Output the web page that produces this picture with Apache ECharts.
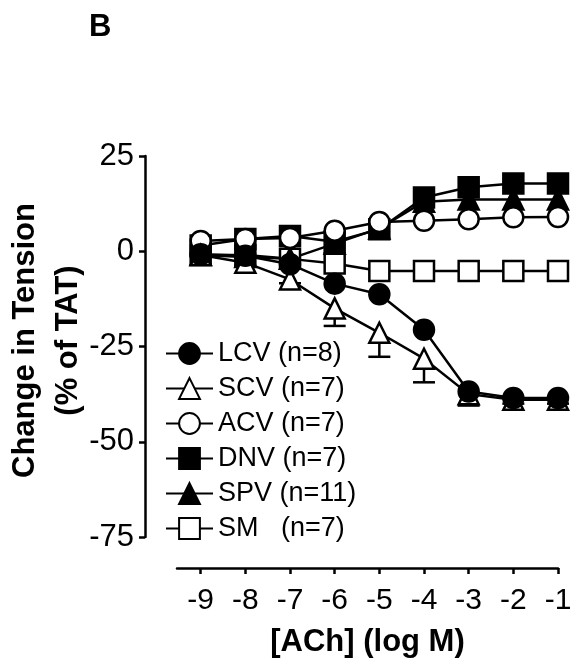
<!DOCTYPE html>
<html>
<head>
<meta charset="utf-8">
<script src="https://cdn.jsdelivr.net/npm/echarts@6/dist/echarts.min.js"></script>
<style>
html,body{margin:0;padding:0;background:#fff;}
#chart{width:573px;height:660px;}
</style>
</head>
<body>
<div id="chart"></div>
<script>
// log[ACh] (M)
const concentrations = [-9, -8, -7, -6, -5, -4, -3, -2, -1];
const xTicks = [-9, -8, -7, -6, -5, -4, -3, -2, -1];
const yTicks = [25, 0, -25, -50, -75];

const seriesNames = ['LCV (n=8)', 'SCV (n=7)', 'ACV (n=7)', 'DNV (n=7)', 'SPV (n=11)', 'SM   (n=7)'];

// Change in tension (% of TAT)
const lcv = [-0.8, -1.2, -3.4, -8.5, -11.3, -20.6, -36.8, -38.5, -38.5];
const scv = [-1.0, -3.0, -7.4, -15.0, -21.4, -28.2, -37.5, -39.0, -39.0];
const acv = [2.7, 3.2, 3.5, 5.4, 7.7, 8.0, 8.4, 8.9, 9.0];
const dnv = [1.5, 3.2, 4.0, 2.5, 5.8, 14.1, 16.8, 17.8, 17.8];
const spv = [-1.0, -1.5, -2.0, 2.0, 6.0, 13.0, 13.6, 13.6, 13.6];
const sm  = [-1.0, -1.0, -2.0, -3.2, -5.2, -5.2, -5.2, -5.2, -5.2];

// SEM (only visible on SCV, drawn downward)
const scvErr = [0.5, 0.8, 1.0, 4.6, 6.3, 6.2, 3.0, 1.0, 1.0];

const FONT = 'Arial, "Liberation Sans", Helvetica, sans-serif';
const LW = 2.5;

function pairs(vals) { return concentrations.map((x, i) => [x, vals[i]]); }

function lineSeries(name, vals, symbol, fill, z) {
  return {
    name: name,
    type: 'line',
    data: pairs(vals),
    symbol: symbol,
    symbolSize: 20,
    showAllSymbol: true,
    clip: false,
    z: z,
    lineStyle: { color: '#000', width: LW },
    itemStyle: { color: fill, borderColor: '#000', borderWidth: LW },
    emphasis: { disabled: true },
    animation: false
  };
}

const errSeries = {
  type: 'custom',
  name: 'scv-err',
  data: concentrations.map((x, i) => [x, scv[i], scvErr[i]]),
  clip: false,
  z: 2,
  animation: false,
  renderItem: function (params, api) {
    const x = api.value(0), y = api.value(1), e = api.value(2);
    const p0 = api.coord([x, y]);
    const p1 = api.coord([x, y - e]);
    const half = 11;
    return {
      type: 'group',
      children: [
        { type: 'line', shape: { x1: p0[0], y1: p0[1], x2: p1[0], y2: p1[1] }, style: { stroke: '#000', lineWidth: LW } },
        { type: 'line', shape: { x1: p1[0] - half, y1: p1[1], x2: p1[0] + half, y2: p1[1] }, style: { stroke: '#000', lineWidth: LW } }
      ]
    };
  }
};

const chart = echarts.init(document.getElementById('chart'), null, { renderer: 'canvas' });
chart.setOption({
  animation: false,
  backgroundColor: '#fff',
  title: {
    text: 'B',
    left: 84, top: 7,
    textStyle: { fontFamily: FONT, fontWeight: 'bold', fontSize: 31, color: '#000' }
  },
  legend: {
    data: seriesNames,
    orient: 'vertical',
    left: 165, top: 340,
    padding: 0,
    itemWidth: 47,
    itemHeight: 26,
    itemGap: 8,
    selectedMode: false,
    textStyle: { fontFamily: FONT, fontSize: 27, color: '#000', lineHeight: 25 }
  },
  grid: { left: 177, right: 15, top: 156, bottom: 123, containLabel: false, outerBoundsMode: 'none' },
  xAxis: {
    type: 'value',
    min: -9.53, max: -1,
    offset: 31,
    splitLine: { show: false },
    axisLine: { show: true, onZero: false, lineStyle: { color: '#000', width: LW } },
    axisTick: { show: true, customValues: xTicks, length: 6, lineStyle: { color: '#000', width: LW } },
    axisLabel: { customValues: xTicks, margin: 18, fontFamily: FONT, fontSize: 30, color: '#000' },
    name: '[ACh] (log M)',
    nameLocation: 'middle',
    nameGap: 59,
    nameMoveOverlap: false,
    nameTextStyle: { fontFamily: FONT, fontWeight: 'bold', fontSize: 31, color: '#000' }
  },
  yAxis: {
    type: 'value',
    min: -75, max: 25, interval: 25,
    offset: 32,
    splitLine: { show: false },
    axisLine: { show: true, onZero: false, lineStyle: { color: '#000', width: LW } },
    axisTick: { show: true, length: 6, lineStyle: { color: '#000', width: LW } },
    axisLabel: { margin: 11, fontFamily: FONT, fontSize: 31, color: '#000' },
    name: 'Change in Tension\n(% of TAT)',
    nameLocation: 'middle',
    nameRotate: 90,
    nameGap: 55,
    nameMoveOverlap: false,
    nameTextStyle: { fontFamily: FONT, fontWeight: 'bold', fontSize: 31, color: '#000', lineHeight: 43, align: 'center', padding: [0, 0, 0, 12] }
  },
  series: [
    lineSeries(seriesNames[5], sm, 'rect', '#fff', 2),
    lineSeries(seriesNames[4], spv, 'triangle', '#000', 2),
    lineSeries(seriesNames[3], dnv, 'rect', '#000', 2),
    lineSeries(seriesNames[2], acv, 'circle', '#fff', 2),
    errSeries,
    lineSeries(seriesNames[1], scv, 'triangle', '#fff', 2),
    lineSeries(seriesNames[0], lcv, 'circle', '#000', 2)
  ]
});
</script>
</body>
</html>
